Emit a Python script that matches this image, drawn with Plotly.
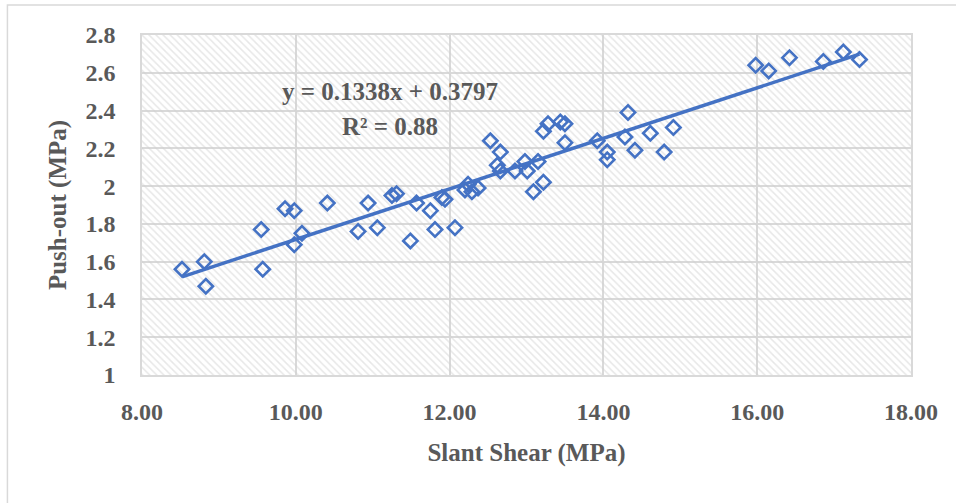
import plotly.graph_objects as go

# Slant shear vs push-out bond strength (MPa)
slant_shear = [
    8.52, 8.81, 8.83, 9.55, 9.57, 9.86, 9.98, 10.08, 9.98, 10.41,
    10.94, 10.81, 11.06, 11.25, 11.31, 11.57, 11.75, 11.90, 11.94, 11.81,
    12.07, 11.49, 12.24, 12.20, 12.37, 12.29, 12.53, 12.66, 12.62, 12.66,
    12.85, 12.98, 13.01, 13.15, 13.22, 13.09, 13.22, 13.28, 13.44, 13.50,
    13.50, 13.92, 14.05, 14.05, 14.32, 14.28, 14.41, 14.61, 14.79, 14.91,
    15.98, 16.15, 16.42, 16.86, 17.12, 17.33,
]
push_out = [
    1.56, 1.60, 1.47, 1.77, 1.56, 1.88, 1.87, 1.75, 1.69, 1.91,
    1.91, 1.76, 1.78, 1.95, 1.96, 1.91, 1.87, 1.94, 1.93, 1.77,
    1.78, 1.71, 2.01, 1.98, 1.99, 1.97, 2.24, 2.18, 2.11, 2.08,
    2.08, 2.13, 2.08, 2.13, 2.02, 1.97, 2.29, 2.33, 2.34, 2.33,
    2.23, 2.24, 2.18, 2.14, 2.39, 2.26, 2.19, 2.28, 2.18, 2.31,
    2.64, 2.61, 2.68, 2.66, 2.71, 2.67,
]

# Linear trendline parameters
slope = 0.1338
intercept = 0.3797
r_squared = 0.88

x_range = [8, 18]
y_range = [1, 2.8]
x_ticks = [8, 10, 12, 14, 16, 18]
y_ticks = [1, 1.2, 1.4, 1.6, 1.8, 2, 2.2, 2.4, 2.6, 2.8]

BLUE = "#4472C4"
TEXT = "#595959"
GRID = "#d9d9d9"
FONT = "Liberation Serif"

fig = go.Figure()

# hatched plot-area background
fig.add_trace(go.Scatter(
    x=[x_range[0], x_range[1], x_range[1], x_range[0], x_range[0]],
    y=[y_range[0], y_range[0], y_range[1], y_range[1], y_range[0]],
    mode="lines", line=dict(width=0), fill="toself",
    fillcolor="rgba(0,0,0,0)",
    fillpattern=dict(shape="\\", fgcolor="#d0d0d0", bgcolor="rgba(0,0,0,0)",
                     size=5, solidity=0.3),
    hoverinfo="skip", showlegend=False,
))

fig.add_trace(go.Scatter(
    x=slant_shear, y=push_out, mode="markers",
    marker=dict(symbol="diamond-open", size=11, color=BLUE,
                line=dict(width=2.6, color=BLUE)),
    showlegend=False,
))

x_lo, x_hi = min(slant_shear), max(slant_shear)
fig.add_trace(go.Scatter(
    x=[x_lo, x_hi], y=[slope * x_lo + intercept, slope * x_hi + intercept],
    mode="lines", line=dict(color=BLUE, width=3.5), showlegend=False,
))

fig.add_annotation(x=11.23, y=2.50, xref="x", yref="y",
                   text=f"<b>y = {slope}x + {intercept}</b>", showarrow=False,
                   font=dict(family=FONT, size=25, color=TEXT))
fig.add_annotation(x=11.23, y=2.316, xref="x", yref="y",
                   text=f"<b>R² = {r_squared}</b>", showarrow=False,
                   font=dict(family=FONT, size=25, color=TEXT))

# outer chart border
fig.add_shape(type="rect", xref="paper", yref="paper",
              x0=-0.175, x1=1.2, y0=-0.5, y1=1.088,
              line=dict(color=GRID, width=1.5), layer="below")

fig.update_layout(
    width=956, height=503,
    margin=dict(l=142, r=45, t=35, b=127.5),
    paper_bgcolor="white", plot_bgcolor="white",
    font=dict(family=FONT, color=TEXT),
    xaxis=dict(
        range=x_range, tickmode="array", tickvals=x_ticks,
        ticktext=[f"<b>{v:.2f}</b>" for v in x_ticks],
        showgrid=True, gridcolor=GRID, gridwidth=1.5,
        showline=True, linecolor=GRID, linewidth=1.5, mirror=True,
        zeroline=False, ticks="", ticklabelstandoff=14,
        tickfont=dict(family=FONT, size=24, color=TEXT),
        title=dict(text="<b>Slant Shear (MPa)</b>", standoff=20,
                   font=dict(family=FONT, size=25, color=TEXT)),
    ),
    yaxis=dict(
        range=y_range, tickmode="array", tickvals=y_ticks,
        ticktext=[f"<b>{v:g}</b>" for v in y_ticks],
        showgrid=True, gridcolor=GRID, gridwidth=1.5,
        showline=True, linecolor=GRID, linewidth=1.5, mirror=True,
        zeroline=False, ticks="", ticklabelstandoff=20,
        tickfont=dict(family=FONT, size=24, color=TEXT),
        title=dict(text="<b>Push-out (MPa)</b>", standoff=12,
                   font=dict(family=FONT, size=25, color=TEXT)),
    ),
)

fig.write_html("out.html")
